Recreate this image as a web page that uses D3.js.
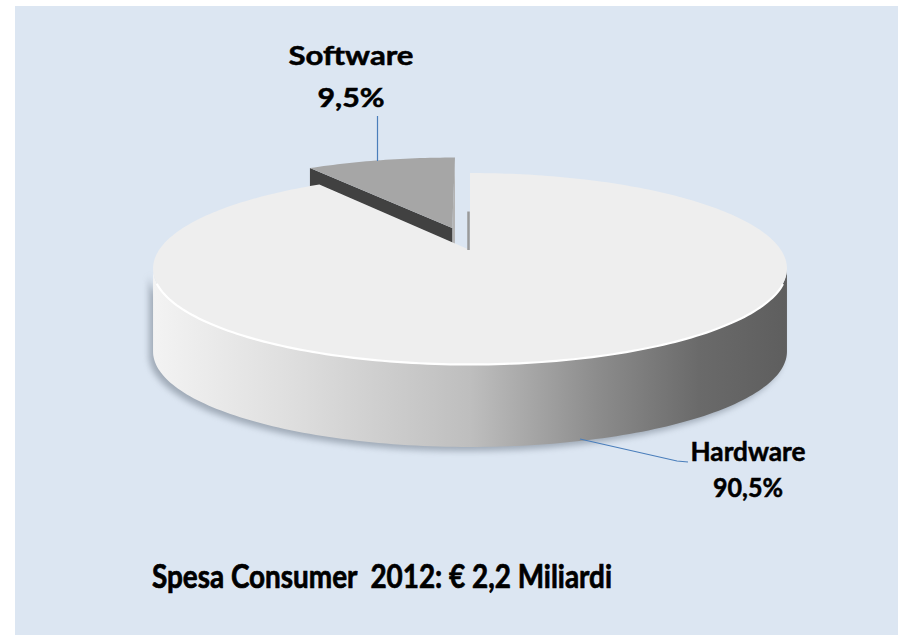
<!DOCTYPE html>
<html>
<head>
<meta charset="utf-8">
<script src="https://cdn.jsdelivr.net/npm/d3@7"></script>
<style>
  html, body { margin: 0; padding: 0; background: #ffffff; overflow: hidden; }
  svg { display: block; }
</style>
</head>
<body>
<svg id="chart" width="898" height="635"></svg>
<script>
// ---- data ----
const categories = ["Software", "Hardware"];
const values = [9.5, 90.5];
const valueLabels = ["9,5%", "90,5%"];
const titleText = "Spesa Consumer  2012: € 2,2 Miliardi";

// ---- layout ----
const W = 898, H = 635;
const svg = d3.select("#chart");
const defs = svg.append("defs");

svg.append("rect").attr("x", 15).attr("y", 6).attr("width", W - 15).attr("height", H - 6)
  .attr("fill", "#dce6f2");

// perspective projection of a tilted disc
const cx = 470, cy = 250;
const D = 4.93, f = 1533, sinP = 0.2955, cosP = 0.955;
const depthPx = 83;
const explodeX = -0.06, explodeY = 0.25;

function proj(a, r, ex, ey, dz) {
  const X = r * Math.sin(a) + ex;
  const Y = r * Math.cos(a) + ey;
  const depth = D + Y * cosP;
  return [cx + f * X / depth, cy - f * Y * sinP / depth + dz];
}

const pie = d3.pie().sort(null).value(d => d)
  .startAngle(-2 * Math.PI * values[0] / d3.sum(values))
  .endAngle(2 * Math.PI - 2 * Math.PI * values[0] / d3.sum(values));
const arcs = pie(values);

const colorTop = d3.scaleOrdinal().domain(categories).range(["#a6a6a6", "#eeeeee"]);

const line = d3.line();

function arcPoints(a0, a1, ex, ey, dz) {
  const n = Math.max(8, Math.ceil(Math.abs(a1 - a0) / 0.02));
  return d3.range(n + 1).map(i => proj(a0 + (a1 - a0) * i / n, 1, ex, ey, dz));
}

// gradient for the outer side
const grad = defs.append("linearGradient").attr("id", "sideGrad")
  .attr("gradientUnits", "userSpaceOnUse")
  .attr("x1", 153).attr("y1", 0).attr("x2", 788).attr("y2", 0);
[[0, "#f3f3f3"], [0.22, "#dedede"], [0.5, "#bebebe"], [0.7, "#8c8c8c"], [0.86, "#6a6a6a"], [1, "#5e5e5e"]]
  .forEach(([o, c]) => grad.append("stop").attr("offset", o).attr("stop-color", c));

const shadow = defs.append("filter").attr("id", "shadow")
  .attr("x", "-10%").attr("y", "-10%").attr("width", "120%").attr("height", "130%");
shadow.append("feGaussianBlur").attr("stdDeviation", 3);

const g = svg.append("g");

arcs.forEach((d, i) => {
  const name = categories[i];
  const exploded = i === 0;
  const ex = exploded ? explodeX : 0;
  const ey = exploded ? explodeY : 0;
  const apexTop = proj(0, 0, ex, ey, 0);
  const apexBot = proj(0, 0, ex, ey, depthPx);

  const grp = g.append("g").attr("class", "slice-" + name);

  if (exploded) {
    // right cut face (thin light strip)
    const pC = proj(d.endAngle, 1, ex, ey, 0);
    const pD = proj(d.endAngle, 1, ex, ey, depthPx);
    grp.append("path")
      .attr("d", line([apexTop, pC, pD, apexBot]) + "Z")
      .attr("fill", "#b4b4b4");
    // left cut face (visible, dark)
    const pA = proj(d.startAngle, 1, ex, ey, 0);
    const pB = proj(d.startAngle, 1, ex, ey, depthPx);
    grp.append("path")
      .attr("d", line([apexTop, pA, pB, apexBot]) + "Z")
      .attr("fill", "#414141");
    const top = [apexTop].concat(arcPoints(d.startAngle, d.endAngle, ex, ey, 0));
    grp.append("path").attr("d", line(top) + "Z").attr("fill", colorTop(name));
  } else {
    // outer side: find silhouette angles (max x and min x)
    const samples = d3.range(0, 721).map(k => d.startAngle + (d.endAngle - d.startAngle) * k / 720);
    const xs = samples.map(a => proj(a, 1, ex, ey, 0)[0]);
    const aR = samples[d3.maxIndex(xs)];
    const aL = samples[d3.minIndex(xs)];
    const topEdge = arcPoints(aR, aL, ex, ey, 0);
    const botEdge = arcPoints(aL, aR, ex, ey, depthPx);
    const sidePath = line(topEdge.concat(botEdge)) + "Z";
    grp.append("path").attr("d", sidePath)
      .attr("fill", "#6f7a88").attr("opacity", 0.55)
      .attr("transform", "translate(-4,4)").attr("filter", "url(#shadow)");
    grp.append("path").attr("d", sidePath).attr("fill", "url(#sideGrad)");
    const top = [apexTop].concat(arcPoints(d.startAngle, d.endAngle, ex, ey, 0));
    grp.append("path").attr("d", line(top) + "Z").attr("fill", colorTop(name));
    // thin visible cut face along the 12 o'clock edge
    const p0 = proj(d.startAngle, 1, ex, ey, 0);
    grp.append("path").attr("d", line([[apexTop[0] - 1.5, apexTop[1]], [p0[0] - 1.5, (p0[1] + apexTop[1]) / 2]]))
      .attr("stroke", "#9a9a9a").attr("stroke-width", 2.5).attr("fill", "none");
    // highlight rim along the front edge
    grp.append("path").attr("d", line(arcPoints(aR + 0.15, aL - 0.15, ex, ey, 0.5)))
      .attr("fill", "none").attr("stroke", "#ffffff").attr("stroke-width", 2.2);
  }
});

// ---- labels and leader lines ----
const labelFont = "Lato, 'Open Sans', 'DejaVu Sans', sans-serif";
const labelSpec = [
  { cx: 351, y1: 65, w1: 125, y2: 107, w2: 67, leader: [[377.5, 116], [377.5, 161]] },
  { cx: 748, y1: 461, w1: 115, y2: 497, w2: 70, leader: [[580, 439], [677, 461], [688, 462]] }
];
categories.forEach((c, i) => {
  const s = labelSpec[i];
  svg.append("path").attr("d", line(s.leader)).attr("fill", "none")
    .attr("stroke", "#4a7ebb").attr("stroke-width", 1.2);
  svg.append("text").attr("x", s.cx).attr("y", s.y1).attr("text-anchor", "middle")
    .attr("font-family", labelFont).attr("font-weight", "bold").attr("font-size", 26)
    .attr("textLength", s.w1).attr("lengthAdjust", "spacingAndGlyphs")
    .attr("stroke", "#000").attr("stroke-width", 0.5)
    .attr("fill", "#000").text(c);
  svg.append("text").attr("x", s.cx).attr("y", s.y2).attr("text-anchor", "middle")
    .attr("font-family", labelFont).attr("font-weight", "bold").attr("font-size", 26)
    .attr("textLength", s.w2).attr("lengthAdjust", "spacingAndGlyphs")
    .attr("stroke", "#000").attr("stroke-width", 0.5)
    .attr("fill", "#000").text(valueLabels[i]);
});

svg.append("text").attr("x", 152).attr("y", 588)
  .attr("font-family", labelFont).attr("font-weight", "bold").attr("font-size", 32)
  .attr("textLength", 460).attr("lengthAdjust", "spacingAndGlyphs")
  .attr("xml:space", "preserve").style("white-space", "pre")
  .attr("stroke", "#000").attr("stroke-width", 0.7)
  .attr("fill", "#000").text(titleText);
</script>
</body>
</html>
